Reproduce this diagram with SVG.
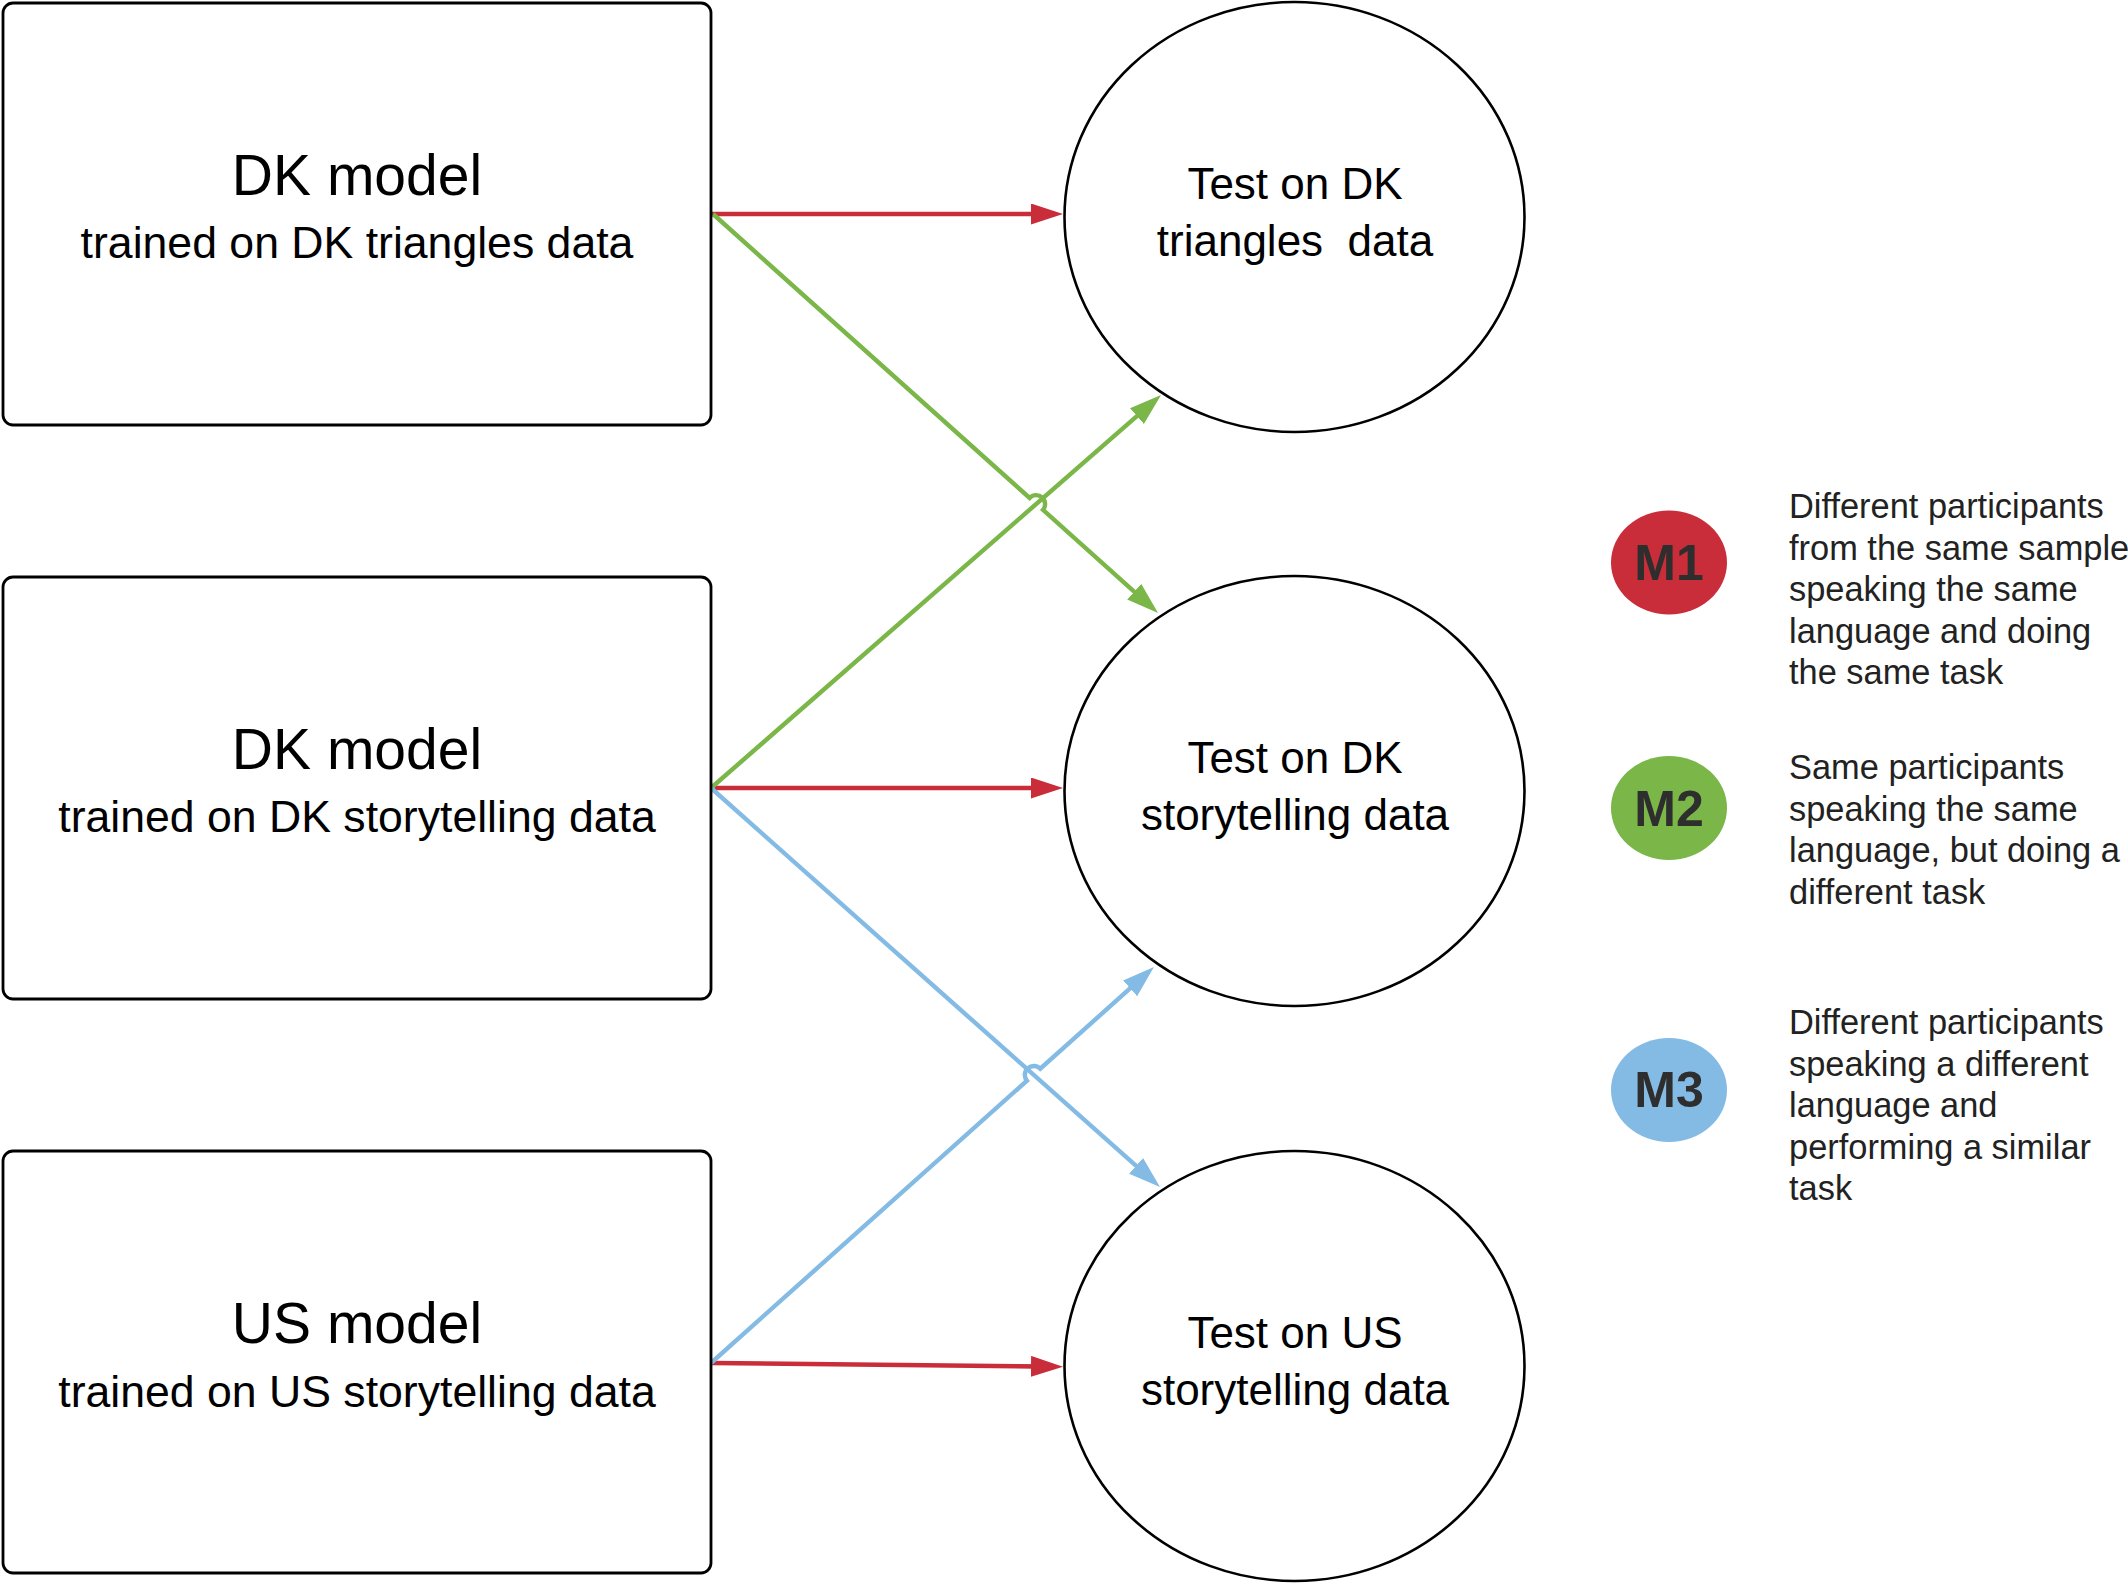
<svg xmlns="http://www.w3.org/2000/svg" width="2128" height="1584" viewBox="0 0 2128 1584">
<style>
  .box { fill: #ffffff; stroke: #000000; stroke-width: 2.8; }
  .circ { fill: #ffffff; stroke: #000000; stroke-width: 2.6; }
  .t1 { font-family: "Liberation Sans", Arial, sans-serif; font-size: 57px; fill: #000; text-anchor: middle; }
  .t2 { font-family: "Liberation Sans", Arial, sans-serif; font-size: 44.6px; fill: #000; text-anchor: middle; }
  .tc { font-family: "Liberation Sans", Arial, sans-serif; font-size: 44px; fill: #000; text-anchor: middle; white-space: pre; }
  .lg { font-family: "Liberation Sans", Arial, sans-serif; font-size: 34.4px; fill: #222222; }
  .badge { font-family: "Liberation Sans", Arial, sans-serif; font-size: 50px; font-weight: bold; fill: #2e2e2e; text-anchor: middle; }
  .red { fill: none; stroke: #c92d39; stroke-width: 4.6; }
  .green { fill: none; stroke: #7ab648; stroke-width: 4.4; }
  .blue { fill: none; stroke: #83bbe5; stroke-width: 4.4; }
</style>
<defs>
  <marker id="aRed" markerUnits="userSpaceOnUse" markerWidth="34" markerHeight="24" refX="22" refY="10.5" orient="auto">
    <path d="M0,0 L32,10.5 L0,21 Z" fill="#c92d39"/>
  </marker>
  <marker id="aGreen" markerUnits="userSpaceOnUse" markerWidth="34" markerHeight="24" refX="22" refY="10.5" orient="auto">
    <path d="M0,0 L32,10.5 L0,21 Z" fill="#7ab648"/>
  </marker>
  <marker id="aBlue" markerUnits="userSpaceOnUse" markerWidth="34" markerHeight="24" refX="22" refY="10.5" orient="auto">
    <path d="M0,0 L32,10.5 L0,21 Z" fill="#83bbe5"/>
  </marker>
</defs>
<rect width="2128" height="1584" fill="#ffffff"/>

<g id="connectors">
  <path class="red" d="M711,214 L1053,214" marker-end="url(#aRed)"/>
  <path class="red" d="M711,788 L1053,788" marker-end="url(#aRed)"/>
  <path class="red" d="M711,1363 L1053,1366.6" marker-end="url(#aRed)"/>
  <path class="green" d="M713,214 L1029.6,497.9 A9,9 0 0 1 1043,509.9 L1150.6,606.3" marker-end="url(#aGreen)"/>
  <path class="green" d="M711,788 L1153.5,401.6" marker-end="url(#aGreen)"/>
  <path class="blue" d="M711,788 L1152.5,1180.4" marker-end="url(#aBlue)"/>
  <path class="blue" d="M711,1363 L1026.9,1080.7 A9,9 0 0 1 1040.3,1068.7 L1146.5,973.7" marker-end="url(#aBlue)"/>
</g>

<g id="box-dk-triangles">
  <rect class="box" x="3" y="3" width="708" height="422" rx="10"/>
  <text class="t1" x="357" y="195">DK model</text>
  <text class="t2" x="357" y="258">trained on DK triangles data</text>
</g>
<g id="box-dk-storytelling">
  <rect class="box" x="3" y="577" width="708" height="422" rx="10"/>
  <text class="t1" x="357" y="769">DK model</text>
  <text class="t2" x="357" y="832">trained on DK storytelling data</text>
</g>
<g id="box-us-storytelling">
  <rect class="box" x="3" y="1151" width="708" height="422" rx="10"/>
  <text class="t1" x="357" y="1343">US model</text>
  <text class="t2" x="357" y="1407">trained on US storytelling data</text>
</g>

<g id="test-dk-triangles">
  <ellipse class="circ" cx="1294.5" cy="217" rx="230" ry="215"/>
  <text class="tc" x="1295" y="199">Test on DK</text>
  <text class="tc" x="1295" y="256">triangles  data</text>
</g>
<g id="test-dk-storytelling">
  <ellipse class="circ" cx="1294.5" cy="791" rx="230" ry="215"/>
  <text class="tc" x="1295" y="773">Test on DK</text>
  <text class="tc" x="1295" y="830">storytelling data</text>
</g>
<g id="test-us-storytelling">
  <ellipse class="circ" cx="1294.5" cy="1366" rx="230" ry="215"/>
  <text class="tc" x="1295" y="1348">Test on US</text>
  <text class="tc" x="1295" y="1405">storytelling data</text>
</g>

<g id="legend-m1">
  <ellipse cx="1669" cy="562.5" rx="58" ry="52" fill="#c92d39"/>
  <text class="badge" x="1669" y="580">M1</text>
  <text class="lg" x="1789" y="518">Different participants</text>
  <text class="lg" x="1789" y="559.5">from the same sample</text>
  <text class="lg" x="1789" y="601">speaking the same</text>
  <text class="lg" x="1789" y="642.5">language and doing</text>
  <text class="lg" x="1789" y="684">the same task</text>
</g>
<g id="legend-m2">
  <ellipse cx="1669" cy="808" rx="58" ry="52" fill="#7ab648"/>
  <text class="badge" x="1669" y="826">M2</text>
  <text class="lg" x="1789" y="779">Same participants</text>
  <text class="lg" x="1789" y="820.5">speaking the same</text>
  <text class="lg" x="1789" y="862">language, but doing a</text>
  <text class="lg" x="1789" y="903.5">different task</text>
</g>
<g id="legend-m3">
  <ellipse cx="1669" cy="1090" rx="58" ry="52" fill="#83bbe5"/>
  <text class="badge" x="1669" y="1107">M3</text>
  <text class="lg" x="1789" y="1034">Different participants</text>
  <text class="lg" x="1789" y="1075.5">speaking a different</text>
  <text class="lg" x="1789" y="1117">language and</text>
  <text class="lg" x="1789" y="1158.5">performing a similar</text>
  <text class="lg" x="1789" y="1200">task</text>
</g>
</svg>
